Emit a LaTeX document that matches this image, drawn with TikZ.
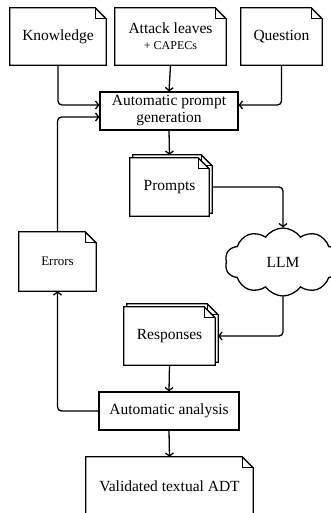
\documentclass[tikz,border=0pt]{standalone}
\usepackage{fontspec}
\setmainfont{Liberation Serif}
\usetikzlibrary{arrows.meta,calc,shapes.symbols}
\pgfdeclarelayer{background}
\pgfsetlayers{background,main}

\newcommand{\fold}{11}
\tikzset{
  docline/.style={line width=1.3pt, line join=miter},
  box/.style={draw, line width=1.3pt, inner sep=2pt, align=center, font=\fontsize{15.5}{17}\selectfont},
  doc/.style={inner sep=2pt, align=center, font=\fontsize{15.5}{17}\selectfont},
  cloudy/.style={draw, line width=1.3pt, cloud, cloud puffs=10, cloud puff arc=110, aspect=1.7, inner sep=0pt, font=\fontsize{15.5}{17}\selectfont},
  flow/.style={line width=1.3pt, rounded corners=4pt, -{Straight Barb[length=3pt,width=8pt]}},
}
% dog-eared sheet round a node; #1 shifts a copy up and right
\newcommand{\docpath}[2][0]{%
  \draw[docline, fill=white]
    ($(#2.south west)+(#1,-#1)$) -- ($(#2.north west)+(#1,-#1)$)
    -- ($(#2.north east)+(#1-\fold,-#1)$) -- ($(#2.north east)+(#1,\fold-#1)$)
    -- ($(#2.south east)+(#1,-#1)$) -- cycle;
  \draw[docline]
    ($(#2.north east)+(#1-\fold,-#1)$) -- ($(#2.north east)+(#1-\fold,\fold-#1)$)
    -- ($(#2.north east)+(#1,\fold-#1)$);
}

\begin{document}
\begin{tikzpicture}[x=1pt,y=1pt,yscale=-1]
\useasboundingbox (0,0) rectangle (330,513);

% inputs
\node[doc, minimum width=96pt, minimum height=57pt] (know) at (58,36.5) {Knowledge};
\node[doc, minimum width=111pt, minimum height=57pt] (leaves) at (170.5,36.5) {Attack leaves\\[-1pt]{\fontsize{12}{13}\selectfont + CAPECs}};
\node[doc, minimum width=81pt, minimum height=57pt] (quest) at (281.5,36.5) {Question};

% generation loop
\node[box, minimum width=138pt, minimum height=38pt] (gen) at (169,111) {Automatic prompt\\generation};
\node[doc, minimum width=79pt, minimum height=58pt] (prompts) at (169.5,187) {Prompts};
\node[cloudy, minimum width=116pt, minimum height=68pt] (llm) at (283,262) {LLM};
\node[doc, font=\fontsize{13}{15}\selectfont, minimum width=77pt, minimum height=59pt] (errors) at (57.5,261.5) {Errors};
\node[doc, minimum width=91pt, minimum height=58pt] (resp) at (169.5,336) {Responses};
\node[box, minimum width=140pt, minimum height=38pt] (check) at (169,411) {Automatic analysis};

% output
\node[doc, minimum width=167pt, minimum height=58pt] (adt) at (169.5,486) {Validated textual ADT};

\begin{pgfonlayer}{background}
\docpath{know}
\docpath{leaves}
\docpath{quest}
\docpath[3]{prompts}
\docpath{prompts}
\docpath{errors}
\docpath[3]{resp}
\docpath{resp}
\docpath{adt}
\end{pgfonlayer}

% connectors
\draw[flow] (know.south) |- ($(gen.west)+(0,-6)$);
\draw[flow] (leaves.south) -- (gen.north);
\draw[flow] (quest.south) |- ($(gen.east)+(0,-6)$);
\draw[flow] (gen.south) -- ($(prompts.north)+(0,-3)$);
\draw[flow] ($(prompts.east)+(3,0)$) -| (llm.north);
\draw[flow] (llm.south) |- ($(resp.east)+(3,0)$);
\draw[flow] (resp.south) -- (check.north);
\draw[flow] (check.south) -- (adt.north);
\draw[flow] (check.west) -| (errors.south);
\draw[flow] (errors.north) |- ($(gen.west)+(0,6)$);

\end{tikzpicture}
\end{document}
